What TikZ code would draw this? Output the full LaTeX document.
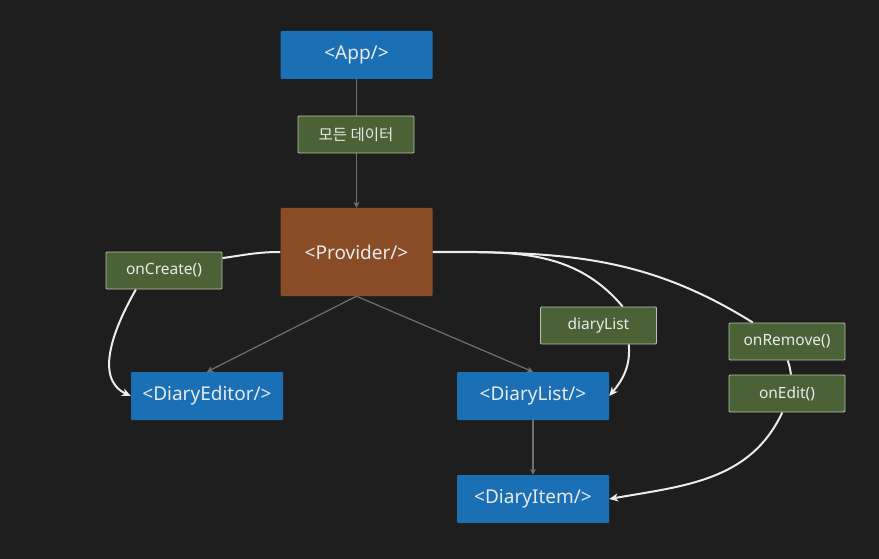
\documentclass[tikz,border=0pt]{standalone}
\usepackage{fontspec}
\setmainfont{Noto Sans}
\newfontfamily\krfont{Noto Sans CJK KR}
\usetikzlibrary{arrows.meta}

\newlength{\du}
\setlength{\du}{1pt}

\definecolor{bgcolor}{RGB}{30,30,30}
\definecolor{compblue}{RGB}{27,111,180}
\definecolor{provbrown}{RGB}{138,76,38}
\definecolor{propgreen}{RGB}{74,98,54}
\definecolor{propborder}{RGB}{185,195,175}
\definecolor{labeltext}{RGB}{232,234,236}
\definecolor{flowgray}{RGB}{112,112,112}
\definecolor{callwhite}{RGB}{236,236,236}

\pgfdeclarelayer{bg}
\pgfdeclarelayer{edges}
\pgfsetlayers{bg,edges,main}

\tikzset{
  comp/.style={fill=compblue, text=labeltext, minimum width=152\du, minimum height=48\du,
    inner sep=0pt, rounded corners=1\du, font=\fontsize{19}{21}\selectfont},
  prov/.style={comp, fill=provbrown, minimum height=88\du},
  prop/.style={fill=propgreen, draw=propborder, line width=0.8\du, text=labeltext,
    minimum width=116\du, minimum height=37\du, inner sep=0pt, rounded corners=1\du,
    font=\fontsize{15.5}{17}\selectfont},
  flow/.style={draw=flowgray, line width=1.2\du, -{Stealth[length=6pt,width=6pt]}},
  call/.style={draw=callwhite, line width=2\du},
  callarrow/.style={call, -{Stealth[length=9pt,width=8pt]}}
}

\begin{document}
\begin{tikzpicture}
\begin{pgfonlayer}{bg}
\fill[bgcolor] (0\du,0\du) rectangle (879\du,-559\du);
\end{pgfonlayer}
\useasboundingbox (0\du,0\du) rectangle (879\du,-559\du);

% components
\node[comp] (app) at (356.5\du,-55\du) {<App/>};
\node[prov] (prov) at (356.5\du,-252\du) {<Provider/>};
\node[comp] (editor) at (207\du,-396\du) {<DiaryEditor/>};
\node[comp] (dlist) at (533\du,-396\du) {<DiaryList/>};
\node[comp] (ditem) at (533\du,-499\du) {<DiaryItem/>};

% props
\node[prop, font=\krfont\fontsize{15.5}{17}\selectfont] (data) at (356\du,-134.5\du) {모든 데이터};
\node[prop] (crt) at (164\du,-270.5\du) {onCreate()};
\node[prop] (dl) at (598.5\du,-325.5\du) {diaryList};
\node[prop] (rm) at (787\du,-341.5\du) {onRemove()};
\node[prop] (ed) at (787\du,-393.5\du) {onEdit()};

\begin{pgfonlayer}{edges}
% tree
\draw[flow] (app.south) -- (prov.north);
\draw[flow] (prov.south) -- (editor.north);
\draw[flow] (prov.south) -- (dlist.north);
\draw[flow] (dlist.south) -- (ditem.north);
% calls
\draw[call] (prov.west) to[out=180,in=8] (crt.12);
\draw[callarrow] (crt.214) to[out=240,in=155] (editor.west);
\draw[call] (prov.east) to[out=0,in=130] (dl.38);
\draw[callarrow] (dl.328) to[out=-85,in=50] (dlist.east);
\draw[call] (prov.east) to[out=0,in=148] (rm.151);
\draw[call] (rm.-88) to[out=-70,in=100] (ed.78);
\draw[callarrow] (ed.256) to[out=245,in=10] (ditem.east);
\end{pgfonlayer}
\end{tikzpicture}
\end{document}
